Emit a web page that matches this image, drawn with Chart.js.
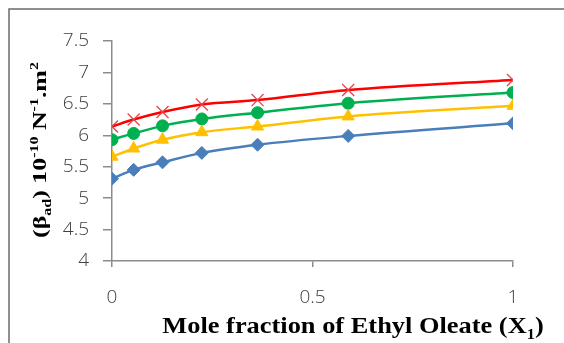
<!DOCTYPE html>
<html>
<head>
<meta charset="utf-8">
<script src="https://cdn.jsdelivr.net/npm/chart.js@4"></script>
<style>
  html, body { margin: 0; padding: 0; background: #fff; }
  #wrap { width: 564px; height: 343px; }
</style>
</head>
<body>
<div id="wrap"><canvas id="chart" width="564" height="343"></canvas></div>
<script>
// mole fraction of ethyl oleate
let moleFraction = [0, 0.054, 0.126, 0.224, 0.363, 0.589, 1]

// adiabatic compressibility, one array per series
let seriesBlue = [5.31, 5.45, 5.57, 5.72, 5.85, 5.99, 6.19]
let seriesYellow = [5.66, 5.79, 5.93, 6.05, 6.14, 6.30, 6.47]
let seriesGreen = [5.93, 6.03, 6.15, 6.26, 6.36, 6.51, 6.68]
let seriesRed = [6.14, 6.25, 6.37, 6.49, 6.56, 6.72, 6.88]

let yTicks = [4, 4.5, 5, 5.5, 6, 6.5, 7, 7.5]
let xTicks = [0, 0.5, 1]

function points(values) {
	return values.map(function (v, i) { return { x: moleFraction[i], y: v } })
}

// draws text made of normal / sub / super pieces
function drawRich(ctx, parts, size, family) {
	let total = 0
	parts.forEach(function (p) {
		p.size = p.kind ? size * 0.62 : size
		ctx.font = 'bold ' + p.size + 'px ' + family
		p.w = ctx.measureText(p.t).width
		total += p.w
	})
	let x = -total / 2
	parts.forEach(function (p) {
		ctx.font = 'bold ' + p.size + 'px ' + family
		let dy = p.kind === 'sub' ? size * 0.25 : (p.kind === 'sup' ? -size * 0.42 : 0)
		ctx.fillText(p.t, x, dy)
		x += p.w
	})
}

const decorations = {
	id: 'decorations',
	beforeDraw(chart) {
		let c = chart.ctx
		c.save()
		c.strokeStyle = '#6b6b6b'
		c.lineWidth = 1.5
		c.strokeRect(9, 9, chart.width, chart.height)
		c.restore()
	},
	afterDraw(chart) {
		let c = chart.ctx
		c.save()
		c.fillStyle = '#000'
		c.textBaseline = 'alphabetic'

		// y axis title
		c.save()
		c.translate(46, 150)
		c.rotate(-Math.PI / 2)
		c.scale(1.36, 1)
		drawRich(c, [
			{ t: '(β' },
			{ t: 'ad', kind: 'sub' },
			{ t: ') 10' },
			{ t: '-10', kind: 'sup' },
			{ t: ' N' },
			{ t: '-1', kind: 'sup' },
			{ t: '.m' },
			{ t: '2', kind: 'sup' }
		], 19, '"Liberation Serif", serif')
		c.restore()

		// x axis title
		c.save()
		c.translate(353, 333)
		c.scale(1.1, 1)
		drawRich(c, [
			{ t: 'Mole fraction of Ethyl Oleate (X' },
			{ t: '1', kind: 'sub' },
			{ t: ')' }
		], 24, '"Liberation Serif", serif')
		c.restore()

		c.restore()
	}
}

let ctx = document.getElementById('chart').getContext('2d')

let tickFont = { family: '"Open Sans", sans-serif', size: 19, weight: '300' }

function plainLabel(value) {
	return String(value)
}

let compressibilityChart = new Chart(ctx, {
	type: 'line',
	data: {
		datasets: [
			{
				label: 'Series 1',
				data: points(seriesBlue),
				borderColor: '#4a7ebb',
				backgroundColor: '#4a7ebb',
				pointStyle: 'rectRot',
				pointRadius: 6.5
			},
			{
				label: 'Series 2',
				data: points(seriesYellow),
				borderColor: '#ffc000',
				backgroundColor: '#ffc000',
				pointStyle: 'triangle',
				pointRadius: 7
			},
			{
				label: 'Series 3',
				data: points(seriesGreen),
				borderColor: '#00b050',
				backgroundColor: '#00b050',
				pointStyle: 'circle',
				pointRadius: 6
			},
			{
				label: 'Series 4',
				data: points(seriesRed),
				borderColor: '#ff0000',
				backgroundColor: '#ff0000',
				pointStyle: 'crossRot',
				pointRadius: 8.5,
				pointBorderColor: '#e8454a',
				pointBorderWidth: 1.3
			}
		]
	},
	options: {
		responsive: false,
		animation: false,
		events: [],
		layout: {
			padding: { left: 8, top: 41, right: 51, bottom: 0 }
		},
		elements: {
			line: {
				borderWidth: 2.5,
				cubicInterpolationMode: 'monotone'
			}
		},
		scales: {
			x: {
				type: 'linear',
				min: 0,
				max: 1,
				afterBuildTicks: function (scale) {
					scale.ticks = xTicks.map(function (v) { return { value: v } })
				},
				afterFit: function (scale) { scale.height = 82 },
				border: { color: '#8c8c8c', width: 1.5 },
				grid: {
					drawOnChartArea: false,
					color: '#8c8c8c',
					lineWidth: 1.5,
					tickLength: 6
				},
				ticks: {
					color: '#404040',
					font: tickFont,
					padding: 19,
					maxRotation: 0,
					callback: plainLabel
				}
			},
			y: {
				min: 4,
				max: 7.5,
				afterBuildTicks: function (scale) {
					scale.ticks = yTicks.map(function (v) { return { value: v } })
				},
				afterFit: function (scale) { scale.width = 104 },
				border: { color: '#8c8c8c', width: 1.5 },
				grid: {
					drawOnChartArea: false,
					color: '#8c8c8c',
					lineWidth: 1.5,
					tickLength: 9
				},
				ticks: {
					color: '#404040',
					font: tickFont,
					padding: 14,
					callback: plainLabel
				}
			}
		},
		plugins: {
			legend: { display: false },
			tooltip: { enabled: false }
		}
	},
	plugins: [decorations]
});
</script>
</body>
</html>
